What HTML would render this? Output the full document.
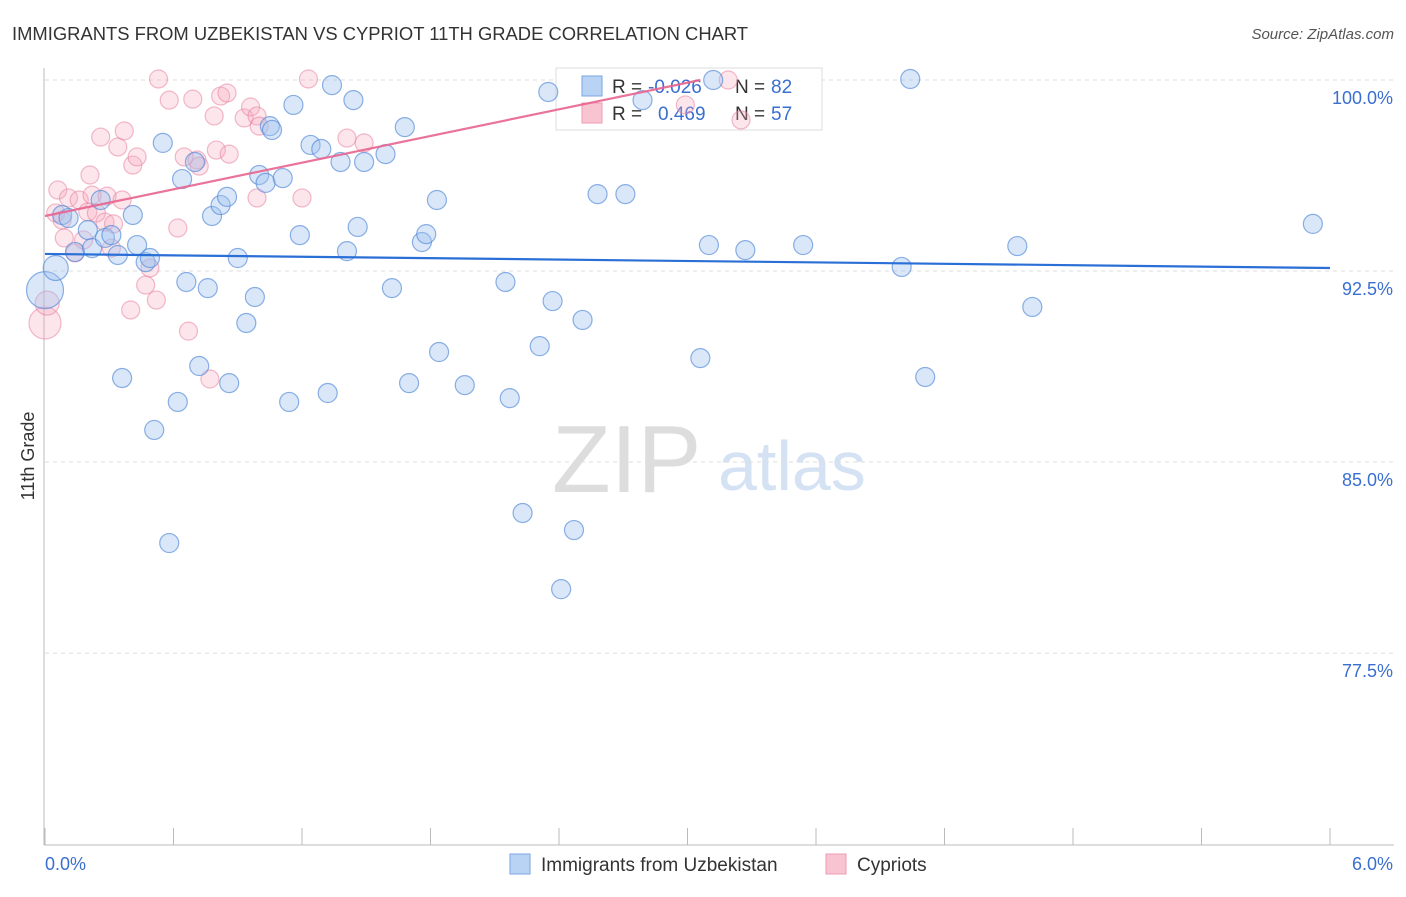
<!DOCTYPE html>
<html><head><meta charset="utf-8"><style>
body{margin:0;background:#fff;font-family:"Liberation Sans",sans-serif;}
svg text{font-family:"Liberation Sans",sans-serif;}
</style></head><body>
<svg id="chart" width="1406" height="892">
<text x="12" y="40" font-size="18.4" fill="#333">IMMIGRANTS FROM UZBEKISTAN VS CYPRIOT 11TH GRADE CORRELATION CHART</text>
<text x="1394" y="39" font-size="15" fill="#555" font-style="italic" text-anchor="end">Source: ZipAtlas.com</text>
<text x="34" y="456" font-size="18" fill="#333" transform="rotate(-90 34 456)" text-anchor="middle">11th Grade</text>
<text x="552" y="492" font-size="96" fill="#ddd" font-family="Liberation Serif">ZIP</text>
<text x="718" y="490" font-size="70" fill="#d4e2f4">atlas</text>
<g id="grid"></g>
<g>
<rect x="556" y="68" width="266" height="62" fill="#fff" stroke="#ddd"/>
<rect x="582" y="76" width="20" height="20" fill="#b9d3f5" stroke="#7aa6e0"/>
<rect x="582" y="103" width="20" height="20" fill="#f8c4d2" stroke="#ee9bb3"/>
<text x="612" y="93" font-size="19" fill="#333">R =</text>
<text x="648" y="93" font-size="19" fill="#3a6fd0">-0.026</text>
<text x="735" y="93" font-size="19" fill="#333">N =</text>
<text x="771" y="93" font-size="19" fill="#3a6fd0">82</text>
<text x="612" y="120" font-size="19" fill="#333">R =</text>
<text x="658" y="120" font-size="19" fill="#3a6fd0">0.469</text>
<text x="735" y="120" font-size="19" fill="#333">N =</text>
<text x="771" y="120" font-size="19" fill="#3a6fd0">57</text>
</g>
<g id="pts"></g><g id="lines"></g>
<g>
<rect x="510" y="854" width="20" height="20" fill="#b9d3f5" stroke="#7aa6e0"/>
<text x="541" y="871" font-size="19" fill="#333">Immigrants from Uzbekistan</text>
<rect x="826" y="854" width="20" height="20" fill="#f8c4d2" stroke="#ee9bb3"/>
<text x="857" y="871" font-size="19" fill="#333">Cypriots</text>
</g>
</svg>
<script>
const blueX=[0,0.05,0.08,0.11,0.14,0.20,0.22,0.26,0.28,0.31,0.34,0.36,0.41,0.43,0.47,0.49,0.51,0.55,0.58,0.62,0.64,0.66,0.70,0.72,0.76,0.78,0.82,0.85,0.86,0.90,0.94,0.98,1.00,1.03,1.05,1.06,1.11,1.14,1.16,1.19,1.24,1.29,1.32,1.34,1.38,1.41,1.44,1.46,1.49,1.59,1.62,1.68,1.70,1.76,1.78,1.83,1.84,1.96,2.15,2.17,2.23,2.31,2.35,2.37,2.47,2.41,2.51,2.58,2.71,2.79,3.06,3.10,3.12,3.27,3.54,4.00,4.04,4.11,4.54,4.61,5.92];
const blueY=[91.75,92.62,94.70,94.58,93.25,94.11,93.40,95.29,93.80,93.91,93.13,88.30,94.70,93.52,92.85,93.01,86.26,97.53,81.82,87.36,96.11,92.07,96.78,88.77,91.83,94.66,95.09,95.41,88.10,93.01,90.46,91.48,96.27,95.96,98.19,98.04,96.15,87.36,99.02,93.91,97.45,97.29,87.71,99.80,96.78,93.28,99.21,94.23,96.78,97.09,91.83,98.15,88.10,93.64,93.95,95.29,89.32,88.02,92.07,87.51,83.00,89.55,99.53,91.32,82.33,80.01,90.58,95.52,95.52,99.21,89.08,93.52,100,93.32,93.52,92.66,100.04,88.34,93.48,91.09,94.35];
const blueSize=[20,14];
const pinkX=[0,0.01,0.05,0.06,0.08,0.09,0.11,0.14,0.16,0.18,0.20,0.21,0.22,0.24,0.26,0.28,0.29,0.31,0.32,0.34,0.36,0.37,0.40,0.41,0.43,0.47,0.49,0.52,0.53,0.58,0.62,0.65,0.67,0.69,0.71,0.72,0.77,0.79,0.80,0.82,0.85,0.86,0.93,0.96,0.99,0.99,1.00,1.20,1.23,1.41,1.49,2.99,3.19,3.25];
const pinkY=[90.46,91.24,94.78,95.68,94.50,93.80,95.37,93.21,95.29,93.72,94.82,96.27,95.48,94.78,97.76,94.42,95.44,93.40,94.35,97.37,95.29,98.00,90.97,96.66,96.98,91.95,92.62,91.36,100.04,99.21,94.19,96.98,90.14,99.25,96.86,96.62,88.26,98.59,97.25,99.37,99.49,97.09,98.51,98.94,98.59,95.37,98.19,95.37,100.04,97.72,97.53,99.02,100,98.43];
const pinkSize=[16,12];
const trendBlue=[93.17,-0.092];
const trendPink=[94.66,1.745];
const xTicks=[0,0.6,1.2,1.8,2.4,3.0,3.6,4.2,4.8,5.4,6.0];
const yTicks=[100,92.5,85,77.5];
const yTickLabels=["100.0%","92.5%","85.0%","77.5%"];
const NS="http://www.w3.org/2000/svg";
const X=v=>45+v/6*1285, Y=v=>80+(100-v)*25.47;
function mk(t,a,p){const e=document.createElementNS(NS,t);for(const k in a)e.setAttribute(k,a[k]);p.appendChild(e);return e;}
const grid=document.getElementById('grid');
mk('line',{x1:44,y1:68,x2:44,y2:845,stroke:'#bbb'},grid);
mk('line',{x1:44,y1:845,x2:1394,y2:845,stroke:'#bbb'},grid);
yTicks.forEach((t,i)=>{
 const l=mk('line',{x1:45,x2:1394,y1:Y(t),y2:Y(t),stroke:'#ddd','stroke-dasharray':'4,4'},grid);
 
 
 const tx=mk('text',{x:1393,y:Y(t)+24,'font-size':18,fill:'#3a6fd0','text-anchor':'end'},grid);
 tx.textContent=yTickLabels[i];
 
 
});
xTicks.forEach(t=>{
 const l=mk('line',{x1:X(t),x2:X(t),y1:828,y2:845,stroke:'#bbb'},grid);
 
 
});
const xl0=mk('text',{x:45,y:870,'font-size':18,fill:'#3a6fd0'},grid);xl0.textContent='0.0%';


const xl1=mk('text',{x:1393,y:870,'font-size':18,fill:'#3a6fd0','text-anchor':'end'},grid);xl1.textContent='6.0%';


const pts=document.getElementById('pts');
pinkX.forEach((v,i)=>{
 const c=mk('circle',{cx:X(v),cy:Y(pinkY[i]),r:pinkSize[i]||9,fill:'rgba(245,170,190,0.3)',stroke:'rgba(232,130,160,0.55)','stroke-width':1.2},pts);
 
 
});
blueX.forEach((v,i)=>{
 const c=mk('circle',{cx:X(v),cy:Y(blueY[i]),r:(blueSize[i]||11)-1.5,fill:'rgba(160,195,240,0.4)',stroke:'rgba(80,135,215,0.65)','stroke-width':1.2},pts);
 
 
});
const lines=document.getElementById('lines');
const lb=mk('line',{x1:X(0),y1:Y(trendBlue[0]),x2:X(6),y2:Y(trendBlue[0]+trendBlue[1]*6),stroke:'#2a6fd6','stroke-width':2.2},lines);


const pe=(100-trendPink[0])/trendPink[1];
const lp=mk('line',{x1:X(0),y1:Y(trendPink[0]),x2:X(pe),y2:Y(100),stroke:'#e8648e','stroke-width':2.2,'stroke-opacity':0.9},lines);


</script>
</body></html>
